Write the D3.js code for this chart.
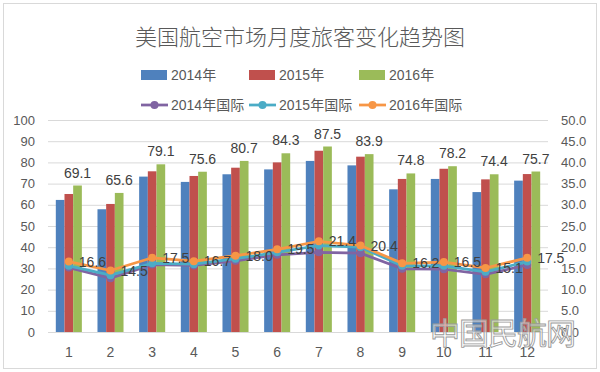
<!DOCTYPE html>
<html>
<head>
<meta charset="utf-8">
<script src="https://cdn.jsdelivr.net/npm/d3@7"></script>
<style>
  body { margin: 0; background: #fff; }
  text { font-family: "Liberation Sans", Arial, "Noto Sans CJK SC", sans-serif; }
</style>
</head>
<body>
<svg id="chart" width="600" height="372"></svg>
<script>
// data
const months = ["1", "2", "3", "4", "5", "6", "7", "8", "9", "10", "11", "12"]
const y2014 = [62.3, 57.9, 73.3, 70.8, 74.4, 76.7, 80.7, 78.6, 67.3, 72.2, 66.0, 71.4]
const y2015 = [65.1, 60.4, 75.8, 73.6, 77.5, 80.0, 85.5, 82.7, 72.2, 77.0, 72.0, 74.5]
const y2016 = [69.1, 65.6, 79.1, 75.6, 80.7, 84.3, 87.5, 83.9, 74.8, 78.2, 74.4, 75.7]
const intl2014 = [15.2, 12.7, 15.9, 15.7, 16.8, 18.2, 18.8, 18.6, 14.9, 14.8, 13.6, 15.8]
const intl2015 = [15.6, 13.4, 16.2, 16.0, 17.3, 18.8, 20.4, 20.0, 15.6, 15.6, 14.2, 16.6]
const intl2016 = [16.6, 14.5, 17.5, 16.7, 18.0, 19.5, 21.4, 20.4, 16.2, 16.5, 15.1, 17.5]
const barNames = ["2014年", "2015年", "2016年"]
const lineNames = ["2014年国际", "2015年国际", "2016年国际"]
const barColors = ["#4f81bd", "#c0504d", "#9bbb59"]
const lineColors = ["#8064a2", "#4bacc6", "#f79646"]

const svg = d3.select("#chart")
const margin = { left: 48, right: 548, top: 120, bottom: 332 }

// outer border
svg.append("rect")
    .attr("x", 3.5).attr("y", 3.5)
    .attr("width", 593).attr("height", 365)
    .attr("fill", "#fff")
    .attr("stroke", "#d9d9d9")

// title
svg.append("text")
    .attr("x", 300).attr("y", 35)
    .attr("text-anchor", "middle")
    .attr("dominant-baseline", "central")
    .attr("fill", "#595959")
    .style("font-size", "22px")
    .style("font-weight", 300)
    .style("font-family", "'Noto Sans CJK SC', sans-serif")
    .text("美国航空市场月度旅客变化趋势图")

// scales
const x0 = d3.scaleBand()
    .domain(months)
    .range([margin.left, margin.right])
    .paddingInner(0.375)
    .paddingOuter(0.1875)
const x1 = d3.scaleBand()
    .domain(d3.range(3))
    .range([0, x0.bandwidth()])
const y = d3.scaleLinear().domain([0, 100]).range([margin.bottom, margin.top])
const y2 = d3.scaleLinear().domain([0, 50]).range([margin.bottom, margin.top])

// gridlines
svg.append("g")
    .selectAll("line")
    .data(y.ticks(10))
    .join("line")
    .attr("x1", margin.left).attr("x2", margin.right)
    .attr("y1", d => y(d) + 0.5).attr("y2", d => y(d) + 0.5)
    .attr("stroke", "#d9d9d9")

// axes
const axisStyle = g => {
    g.select(".domain").remove()
    g.selectAll("text").attr("fill", "#595959").style("font-size", "13px")
}
svg.append("g")
    .attr("transform", `translate(${margin.left},0)`)
    .call(d3.axisLeft(y).ticks(10).tickSize(0).tickPadding(13))
    .call(axisStyle)
svg.append("g")
    .attr("transform", `translate(${margin.right},0)`)
    .call(d3.axisRight(y2).ticks(10).tickSize(0).tickPadding(13).tickFormat(d3.format(".1f")))
    .call(axisStyle)
svg.append("g")
    .attr("transform", `translate(0,${margin.bottom})`)
    .call(d3.axisBottom(x0).tickSize(0).tickPadding(15))
    .call(axisStyle)
    .selectAll("text").style("font-size", "14px")

// bars
const barSeries = [y2014, y2015, y2016]
barSeries.forEach((vals, i) => {
    svg.append("g")
        .selectAll("rect")
        .data(vals)
        .join("rect")
        .attr("x", (d, j) => x0(months[j]) + x1(i))
        .attr("y", d => y(d))
        .attr("width", x1.bandwidth())
        .attr("height", d => margin.bottom - y(d))
        .attr("fill", barColors[i])
})

// labels over the 2016 bars
svg.append("g")
    .selectAll("text")
    .data(y2016)
    .join("text")
    .attr("x", (d, j) => x0(months[j]) + x1(2) + x1.bandwidth() / 2)
    .attr("y", d => y(d) - 8)
    .attr("text-anchor", "middle")
    .attr("fill", "#404040")
    .style("font-size", "14px")
    .text(d => d.toFixed(1))

// international lines
const cx = j => x0(months[j]) + x0.bandwidth() / 2
const lineSeries = [intl2014, intl2015, intl2016]
lineSeries.forEach((vals, i) => {
    const g = svg.append("g")
    g.append("path")
        .datum(vals)
        .attr("fill", "none")
        .attr("stroke", lineColors[i])
        .attr("stroke-width", 2.75)
        .attr("stroke-linejoin", "round")
        .attr("d", d3.line().x((d, j) => cx(j)).y(d => y2(d)))
    g.selectAll("circle")
        .data(vals)
        .join("circle")
        .attr("cx", (d, j) => cx(j))
        .attr("cy", d => y2(d))
        .attr("r", 4)
        .attr("fill", lineColors[i])
})

// labels for 2016 international
svg.append("g")
    .selectAll("text")
    .data(intl2016)
    .join("text")
    .attr("x", (d, j) => cx(j) + 10)
    .attr("y", d => y2(d))
    .attr("dominant-baseline", "central")
    .attr("fill", "#404040")
    .style("font-size", "14px")
    .text(d => d.toFixed(1))

// legend
const legX = [141, 249, 359]
const leg = svg.append("g").style("font-size", "14px")
barNames.forEach((name, i) => {
    leg.append("rect")
        .attr("x", legX[i]).attr("y", 70)
        .attr("width", 26).attr("height", 10)
        .attr("fill", barColors[i])
    leg.append("text")
        .attr("x", legX[i] + 30).attr("y", 75)
        .attr("dominant-baseline", "central")
        .attr("fill", "#595959")
        .text(name)
})
lineNames.forEach((name, i) => {
    leg.append("line")
        .attr("x1", legX[i]).attr("x2", legX[i] + 27)
        .attr("y1", 105).attr("y2", 105)
        .attr("stroke", lineColors[i])
        .attr("stroke-width", 2.75)
    leg.append("circle")
        .attr("cx", legX[i] + 13.5).attr("cy", 105)
        .attr("r", 4)
        .attr("fill", lineColors[i])
    leg.append("text")
        .attr("x", legX[i] + 30).attr("y", 105)
        .attr("dominant-baseline", "central")
        .attr("fill", "#595959")
        .text(name)
})

// watermark
svg.append("text")
    .attr("x", 430).attr("y", 344)
    .attr("textLength", 146)
    .attr("fill", "#fff")
    .attr("fill-opacity", 0.55)
    .attr("stroke", "#9a9a9a")
    .attr("stroke-width", 0.9)
    .style("font-size", "30px")
    .style("font-family", "'Noto Sans CJK SC', sans-serif")
    .text("中国民航网")
</script>
</body>
</html>
